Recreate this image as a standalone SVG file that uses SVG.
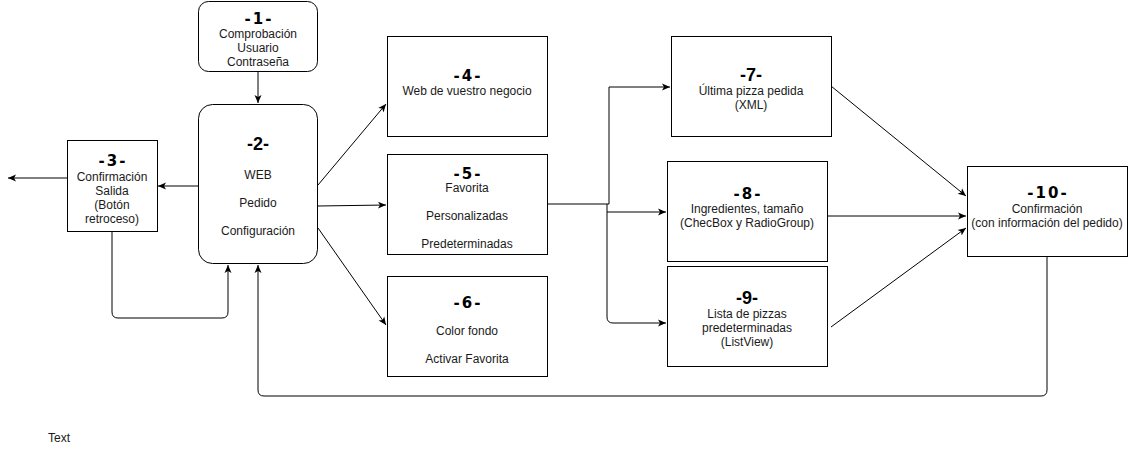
<svg xmlns="http://www.w3.org/2000/svg" width="1128" height="449" viewBox="0 0 1128 449">
<defs>
<style>
.box{fill:#fff;stroke:#000;stroke-width:1}
.t{font-family:"Liberation Sans",Arial,sans-serif;font-size:12px;fill:#1a1a1a;text-anchor:middle}
.h{font-family:"DejaVu Sans",Verdana,sans-serif;font-size:15px;font-weight:bold;fill:#000;text-anchor:middle;letter-spacing:2px}
.h2{font-family:"Liberation Sans",Arial,sans-serif;font-size:18px;font-weight:bold;fill:#000;text-anchor:middle}
.c{fill:none;stroke:#000;stroke-width:1}
</style>
<marker id="arr" markerWidth="10" markerHeight="10" refX="8" refY="4" orient="auto" markerUnits="userSpaceOnUse">
<path d="M0,0.5 L8,4 L0,7.5 L2,4 Z" fill="#000"/>
</marker>
</defs>
<rect width="1128" height="449" fill="#fff"/>
<g id="connectors">
<path class="c" d="M258,72 L258,103" marker-end="url(#arr)"/>
<path class="c" d="M198,186 L158,186" marker-end="url(#arr)"/>
<path class="c" d="M67,178 L8,178" marker-end="url(#arr)"/>
<path class="c" d="M112,232 L112,312 Q112,318 118,318 L222,318 Q228,318 228,312 L228,265" marker-end="url(#arr)"/>
<path class="c" d="M1047,256 L1047,390 Q1047,396 1041,396 L264,396 Q258,396 258,390 L258,265" marker-end="url(#arr)"/>
<path class="c" d="M318,185 L386,104" marker-end="url(#arr)"/>
<path class="c" d="M318,206 L386,205" marker-end="url(#arr)"/>
<path class="c" d="M318,228 L386,325" marker-end="url(#arr)"/>
<path class="c" d="M547,204 L609,204 L609,87 L670,87" marker-end="url(#arr)"/>
<path class="c" d="M607,204 L607,212 L666,212" marker-end="url(#arr)"/>
<path class="c" d="M607,212 L607,317 Q607,323 613,323 L666,323" marker-end="url(#arr)"/>
<path class="c" d="M831,86 L966,196" marker-end="url(#arr)"/>
<path class="c" d="M827,216 L966,216" marker-end="url(#arr)"/>
<path class="c" d="M831,327 L966,228" marker-end="url(#arr)"/>
</g>
<g id="n1">
<rect class="box" x="198.5" y="1.5" width="119" height="70" rx="10"/>
<text class="h" x="259" y="24">-1-</text>
<text class="t" x="258" y="38">Comprobación</text>
<text class="t" x="258" y="52">Usuario</text>
<text class="t" x="258" y="66">Contraseña</text>
</g>
<g id="n2">
<rect class="box" x="198.5" y="104.5" width="119" height="159" rx="14"/>
<text class="h2" x="258" y="150">-2-</text>
<text class="t" x="258" y="179">WEB</text>
<text class="t" x="258" y="207">Pedido</text>
<text class="t" x="258" y="235">Configuración</text>
</g>
<g id="n3">
<rect class="box" x="67.5" y="140.5" width="90" height="91"/>
<text class="h" x="113" y="166">-3-</text>
<text class="t" x="112" y="181">Confirmación</text>
<text class="t" x="112" y="195">Salida</text>
<text class="t" x="112" y="209">(Botón</text>
<text class="t" x="112" y="223">retroceso)</text>
</g>
<g id="n4">
<rect class="box" x="387.5" y="36.5" width="160" height="100"/>
<text class="h" x="468" y="81">-4-</text>
<text class="t" x="467" y="95">Web de vuestro negocio</text>
</g>
<g id="n5">
<rect class="box" x="387.5" y="154.5" width="160" height="100"/>
<text class="h" x="468" y="179">-5-</text>
<text class="t" x="467" y="192">Favorita</text>
<text class="t" x="467" y="220">Personalizadas</text>
<text class="t" x="467" y="248">Predeterminadas</text>
</g>
<g id="n6">
<rect class="box" x="387.5" y="276.5" width="160" height="100"/>
<text class="h" x="468" y="308">-6-</text>
<text class="t" x="467" y="335">Color fondo</text>
<text class="t" x="467" y="363">Activar Favorita</text>
</g>
<g id="n7">
<rect class="box" x="671.5" y="36.5" width="160" height="100"/>
<text class="h2" x="751" y="81">-7-</text>
<text class="t" x="751" y="95">Última pizza pedida</text>
<text class="t" x="751" y="109">(XML)</text>
</g>
<g id="n8">
<rect class="box" x="667.5" y="161.5" width="160" height="100"/>
<text class="h" x="748" y="199">-8-</text>
<text class="t" x="747" y="213">Ingredientes, tamaño</text>
<text class="t" x="747" y="227">(ChecBox y RadioGroup)</text>
</g>
<g id="n9">
<rect class="box" x="667.5" y="266.5" width="160" height="100"/>
<text class="h2" x="747" y="304">-9-</text>
<text class="t" x="747" y="318">Lista de pizzas</text>
<text class="t" x="747" y="332">predeterminadas</text>
<text class="t" x="747" y="346">(ListView)</text>
</g>
<g id="n10">
<rect class="box" x="967.5" y="166.5" width="160" height="90"/>
<text class="h" x="1048" y="198">-10-</text>
<text class="t" x="1047" y="213">Confirmación</text>
<text class="t" x="1047" y="227">(con información del pedido)</text>
</g>
<g id="label">
<text class="t" x="48" y="442" style="text-anchor:start">Text</text>
</g>
</svg>
